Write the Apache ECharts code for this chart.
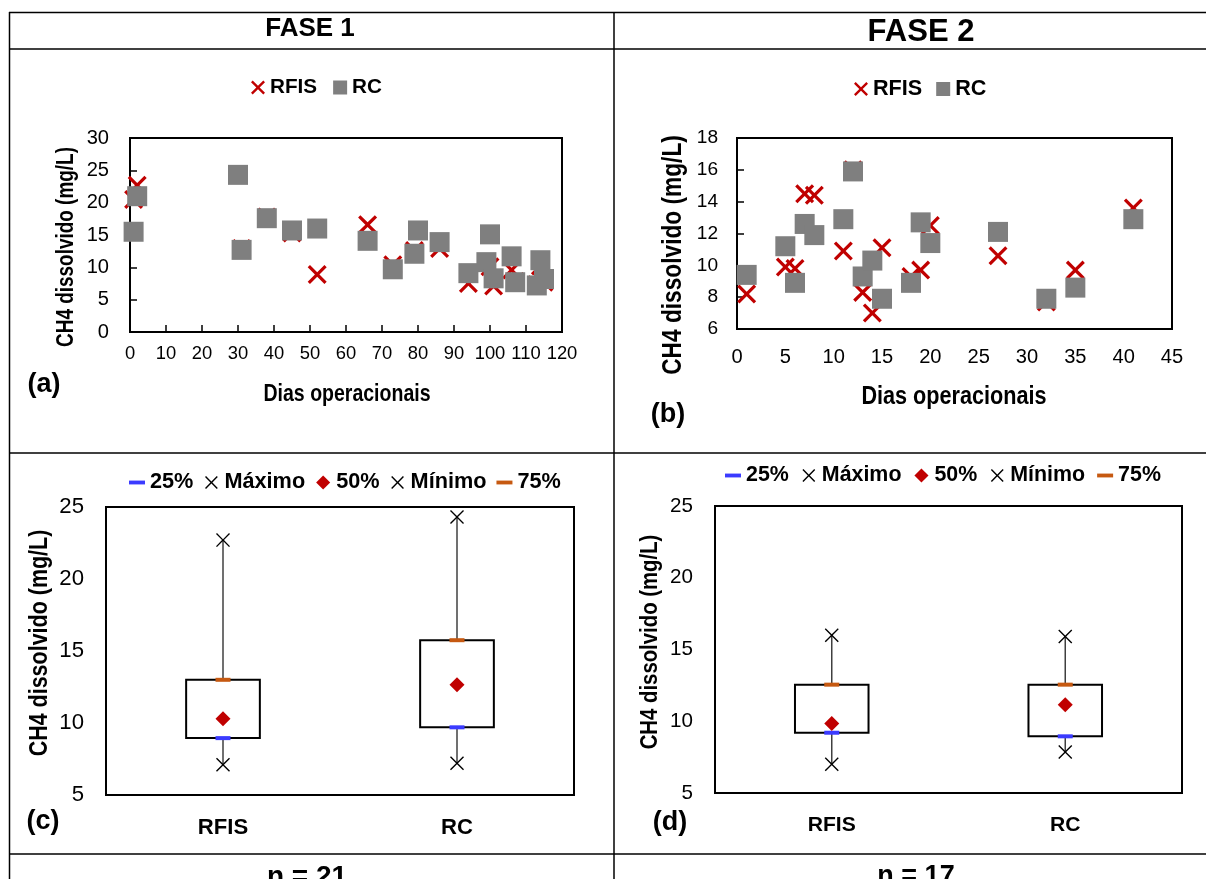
<!DOCTYPE html>
<html>
<head>
<meta charset="utf-8">
<script src="https://cdn.jsdelivr.net/npm/echarts@6/dist/echarts.min.js"></script>
<style>
  html, body { margin: 0; padding: 0; background: #fff; }
  #chart { width: 1206px; height: 879px; }
</style>
</head>
<body>
<div id="chart"></div>
<script>
// ---- Fase 1: dissolved CH4 per operational day ----
const F1_RFIS_DAYS = [1, 2, 31, 38, 45, 52, 66, 73, 79, 86, 94, 94, 99, 100, 101, 101, 106, 107, 113, 114, 115];
const F1_RFIS_VALS = [20.5, 22.7, 12.9, 17.8, 15.3, 8.9, 16.6, 10.4, 12.6, 12.9, 7.5, 9.1, 10.8, 10.1, 7.1, 8.3, 9.6, 7.8, 7.3, 10.2, 7.7];
const F1_RC_DAYS = [1, 2, 30, 31, 38, 45, 52, 66, 73, 79, 80, 86, 94, 99, 100, 101, 106, 107, 113, 114, 115];
const F1_RC_VALS = [15.5, 21.0, 24.3, 12.7, 17.6, 15.7, 16.0, 14.1, 9.7, 12.1, 15.7, 13.9, 9.1, 10.8, 15.1, 8.3, 11.7, 7.7, 7.2, 11.1, 8.2];

// ---- Fase 2 ----
const F2_RFIS_DAYS = [1, 5, 6, 7, 8, 11, 12, 13, 14, 15, 18, 19, 20, 27, 32, 35, 41];
const F2_RFIS_VALS = [8.2, 9.9, 9.8, 14.5, 14.4, 10.9, 16.0, 8.3, 7.0, 11.1, 9.3, 9.7, 12.5, 10.6, 7.7, 9.7, 13.6];
const F2_RC_DAYS = [1, 5, 6, 7, 8, 11, 12, 13, 14, 15, 18, 19, 20, 27, 32, 35, 41];
const F2_RC_VALS = [9.4, 11.2, 8.9, 12.6, 11.9, 12.9, 15.9, 9.3, 10.3, 7.9, 8.9, 12.7, 11.4, 12.1, 7.9, 8.6, 12.9];

// ---- Summary statistics (RFIS, RC) ----
const BOX_CATS = ['RFIS', 'RC'];
const F1_MIN = [7.1, 7.2];
const F1_Q1 = [8.95, 9.7];
const F1_MED = [10.3, 12.65];
const F1_Q3 = [13.0, 15.75];
const F1_MAX = [22.7, 24.3];
const F2_MIN = [7.0, 7.85];
const F2_Q1 = [9.2, 8.95];
const F2_MED = [9.85, 11.15];
const F2_Q3 = [12.55, 12.55];
const F2_MAX = [16.0, 15.9];

const N_FASE1 = 21;
const N_FASE2 = 17;

// ---- fonts ----
const SANS = "'Liberation Sans',Arial,sans-serif";
const NARROW_SCALE = 0.82;          // horizontal squeeze used for the condensed-looking titles
const LABEL_BOOST = 1.12;           // label size relative to a pure width fit
const ctx2d = document.createElement('canvas').getContext('2d');
function textWidth(font, s) { ctx2d.font = font; return ctx2d.measureText(s).width; }
function fitSize(s, width, bold) {
  return 100 * width / textWidth((bold ? 'bold' : 'normal') + ' 100px ' + SANS, s);
}
const labelSize = (s, width, bold) => +(fitSize(s, width, bold) * LABEL_BOOST).toFixed(1);
const titleFont = (s, width) => 'bold ' + (fitSize(s, width, true) / NARROW_SCALE).toFixed(1) + 'px ' + SANS;

const RED = '#c00000', GRAY = '#7f7f7f', BLUE = '#3b3bff', ORANGE = '#c65911';

// X-shaped filled path; inset leaves empty margin inside the 0..100 box
function crossPath(inset, t) {
  const s = (100 - 2 * inset) / 100;
  const pts = [[0, t], [t, 0], [50, 50 - t], [100 - t, 0], [100, t], [50 + t, 50],
               [100, 100 - t], [100 - t, 100], [50, 50 + t], [t, 100], [0, 100 - t], [50 - t, 50]];
  const p = pts.map(([x, y]) => (inset + x * s).toFixed(2) + ',' + (inset + y * s).toFixed(2));
  return 'path://' + (inset > 0 ? 'M0,0 M100,100 ' : '') + 'M' + p.join(' L') + ' Z';
}
const X_BOLD = crossPath(0, 12);
const X_THIN = crossPath(0, 7);
const ICON_X_THIN = crossPath(10, 8);
const ICON_DASH = 'path://M0,0 M100,100 M0,38 L100,38 L100,62 L0,62 Z';
const ICON_DIAMOND = 'path://M0,0 M100,100 M50,6 L94,50 L50,94 L6,50 Z';

const zip = (a, b) => a.map((v, i) => [v, b[i]]);
const catZip = (vals) => BOX_CATS.map((c, i) => [c, vals[i]]);

const axisLine = { onZero: false, lineStyle: { color: '#000', width: 2 } };
const tickIn = { inside: true, length: 7, lineStyle: { color: '#000', width: 1.5 } };
const lbl = (size, margin, bold) => ({ margin, fontFamily: SANS, fontSize: size, color: '#000', fontWeight: bold ? 'bold' : 'normal' });

function boxSeries(gi, mins, q1, q3, maxs) {
  return {
    type: 'custom', xAxisIndex: gi, yAxisIndex: gi, coordinateSystem: 'cartesian2d',
    encode: { x: 0, y: [1, 2, 3, 4] },
    data: BOX_CATS.map((c, i) => [i, mins[i], q1[i], q3[i], maxs[i]]),
    renderItem(params, api) {
      const i = api.value(0);
      const hi = api.coord([i, api.value(4)]);
      const lo = api.coord([i, api.value(1)]);
      const bt = api.coord([i, api.value(3)]);
      const bb = api.coord([i, api.value(2)]);
      const bw = api.size([1, 0])[0] * 0.315;
      return {
        type: 'group',
        children: [
          { type: 'line', shape: { x1: hi[0], y1: hi[1], x2: lo[0], y2: lo[1] }, style: { stroke: '#404040', lineWidth: 1.5 } },
          { type: 'rect', shape: { x: bt[0] - bw / 2, y: bt[1], width: bw, height: bb[1] - bt[1] }, style: { fill: '#fff', stroke: '#000', lineWidth: 2 } }
        ]
      };
    }
  };
}

function markerSeries(gi, q1, med, q3, mins, maxs) {
  const base = { type: 'scatter', xAxisIndex: gi, yAxisIndex: gi };
  const st = (color) => ({ color, opacity: 1 });
  return [
    Object.assign({}, base, { name: '25%', data: catZip(q1), symbol: 'rect', symbolSize: [15, 4], itemStyle: st(BLUE) }),
    Object.assign({}, base, { name: '75%', data: catZip(q3), symbol: 'rect', symbolSize: [15, 4], itemStyle: st(ORANGE) }),
    Object.assign({}, base, { name: 'Máximo', data: catZip(maxs), symbol: X_THIN, symbolSize: 14, itemStyle: st('#000') }),
    Object.assign({}, base, { name: 'Mínimo', data: catZip(mins), symbol: X_THIN, symbolSize: 14, itemStyle: st('#000') }),
    Object.assign({}, base, { name: '50%', data: catZip(med), symbol: 'diamond', symbolSize: 15, itemStyle: st(RED) })
  ];
}

const boxLegendData = [
  { name: '25%', icon: ICON_DASH },
  { name: 'Máximo', icon: ICON_X_THIN },
  { name: '50%', icon: ICON_DIAMOND },
  { name: 'Mínimo', icon: ICON_X_THIN },
  { name: '75%', icon: ICON_DASH }
];
const legendText = (size, lh) => ({ fontFamily: SANS, fontWeight: 'bold', fontSize: size, lineHeight: lh, color: '#000' });

function text(str, x, y, font, rot, sx) {
  return { type: 'text', x, y, rotation: rot || 0, scaleX: sx || 1, z: 100,
    style: { text: str, font, fill: '#000', textAlign: 'center', textVerticalAlign: 'middle' } };
}
function title(str, x, y, width, rot) {
  return text(str, x, y, titleFont(str, width), rot, NARROW_SCALE);
}
function line(x1, y1, x2, y2) {
  return { type: 'line', z: 100, shape: { x1, y1, x2, y2 }, style: { stroke: '#000', lineWidth: 1.5 } };
}
const YNAME = 'CH4 dissolvido (mg/L)';
const XNAME = 'Dias operacionais';

const option = {
  animation: false,
  backgroundColor: '#fff',
  grid: [
    { left: 130, top: 138, width: 432, height: 194, show: true, borderColor: '#000', borderWidth: 2 },
    { left: 737, top: 138, width: 435, height: 191, show: true, borderColor: '#000', borderWidth: 2 },
    { left: 106, top: 507, width: 468, height: 288, show: true, borderColor: '#000', borderWidth: 2 },
    { left: 715, top: 506, width: 467, height: 287, show: true, borderColor: '#000', borderWidth: 2 }
  ],
  xAxis: [
    { gridIndex: 0, type: 'value', min: 0, max: 120, interval: 10, axisLine, axisTick: tickIn, splitLine: { show: false }, axisLabel: lbl(labelSize('10', 18.3), 13) },
    { gridIndex: 1, type: 'value', min: 0, max: 45, interval: 5, axisLine, axisTick: { show: false }, splitLine: { show: false }, axisLabel: lbl(labelSize('10', 20), 18) },
    { gridIndex: 2, type: 'category', data: BOX_CATS, axisLine, axisTick: tickIn, axisLabel: lbl(labelSize('RFIS', 45, true), 22, true) },
    { gridIndex: 3, type: 'category', data: BOX_CATS, axisLine, axisTick: tickIn, axisLabel: lbl(labelSize('RFIS', 43, true), 22, true) }
  ],
  yAxis: [
    { gridIndex: 0, type: 'value', min: 0, max: 30, interval: 5, axisLine, axisTick: tickIn, splitLine: { show: false }, axisLabel: lbl(labelSize('30', 20), 21) },
    { gridIndex: 1, type: 'value', min: 6, max: 18, interval: 2, axisLine, axisTick: tickIn, splitLine: { show: false }, axisLabel: lbl(labelSize('18', 19), 19) },
    { gridIndex: 2, type: 'value', min: 5, max: 25, interval: 5, axisLine, axisTick: { show: false }, splitLine: { show: false }, axisLabel: lbl(labelSize('25', 22), 22) },
    { gridIndex: 3, type: 'value', min: 5, max: 25, interval: 5, axisLine, axisTick: { show: false }, splitLine: { show: false }, axisLabel: lbl(labelSize('25', 20.5), 22) }
  ],
  legend: [
    { left: 251, top: 77, padding: 0, itemWidth: 14, itemHeight: 14, itemGap: 16, textStyle: legendText(labelSize('RFIS', 42, true), 14),
      data: [{ name: 'RFIS', icon: X_BOLD }, { name: 'RC', icon: 'rect' }] },
    { left: 854, top: 78, padding: 0, itemWidth: 14, itemHeight: 14, itemGap: 14, textStyle: legendText(labelSize('RFIS', 44, true), 14),
      data: [{ name: 'RFIS', icon: X_BOLD }, { name: 'RC', icon: 'rect' }] },
    { left: 129, top: 471.5, padding: 0, width: 480, itemWidth: 16, itemHeight: 16, itemGap: 10, textStyle: legendText(labelSize('Máximo', 72, true), 16), data: boxLegendData },
    { left: 725, top: 465, padding: 0, width: 475, itemWidth: 16, itemHeight: 16, itemGap: 12, textStyle: legendText(labelSize('Máximo', 71, true), 16), data: boxLegendData }
  ],
  series: [
    { type: 'scatter', name: 'RFIS', xAxisIndex: 0, yAxisIndex: 0, data: zip(F1_RFIS_DAYS, F1_RFIS_VALS), symbol: X_BOLD, symbolSize: 19, itemStyle: { color: RED, opacity: 1 } },
    { type: 'scatter', name: 'RC', xAxisIndex: 0, yAxisIndex: 0, data: zip(F1_RC_DAYS, F1_RC_VALS), symbol: 'rect', symbolSize: 20, itemStyle: { color: GRAY, opacity: 1 } },
    { type: 'scatter', name: 'RFIS', xAxisIndex: 1, yAxisIndex: 1, data: zip(F2_RFIS_DAYS, F2_RFIS_VALS), symbol: X_BOLD, symbolSize: 19, itemStyle: { color: RED, opacity: 1 } },
    { type: 'scatter', name: 'RC', xAxisIndex: 1, yAxisIndex: 1, data: zip(F2_RC_DAYS, F2_RC_VALS), symbol: 'rect', symbolSize: 20, itemStyle: { color: GRAY, opacity: 1 } },
    boxSeries(2, F1_MIN, F1_Q1, F1_Q3, F1_MAX),
    ...markerSeries(2, F1_Q1, F1_MED, F1_Q3, F1_MIN, F1_MAX),
    boxSeries(3, F2_MIN, F2_Q1, F2_Q3, F2_MAX),
    ...markerSeries(3, F2_Q1, F2_MED, F2_Q3, F2_MIN, F2_MAX)
  ],
  graphic: {
    elements: [
      // table frame
      line(9, 12.5, 1206, 12.5),
      line(9, 49, 1206, 49),
      line(9, 453, 1206, 453),
      line(9, 854, 1206, 854),
      line(9.5, 12, 9.5, 879),
      line(614, 12, 614, 879),
      // column headers and sample sizes
      text('FASE 1', 310, 29, 'bold 26px ' + SANS),
      text('FASE 2', 921, 32, 'bold 31px ' + SANS),
      text('n = ' + N_FASE1, 307, 877, 'bold 28px ' + SANS),
      text('n = ' + N_FASE2, 916, 877, 'bold 27px ' + SANS),
      // axis titles
      title(YNAME, 67, 247, 200, Math.PI / 2),
      title(XNAME, 347, 394, 167),
      title(YNAME, 673, 255, 240, Math.PI / 2),
      title(XNAME, 954, 397, 185),
      title(YNAME, 40, 643, 227, Math.PI / 2),
      title(YNAME, 650, 642, 215, Math.PI / 2),
      // panel letters
      text('(a)', 44, 385, 'bold 27px ' + SANS),
      text('(b)', 668, 415, 'bold 27px ' + SANS),
      text('(c)', 43, 822, 'bold 27px ' + SANS),
      text('(d)', 670, 823, 'bold 27px ' + SANS)
    ]
  }
};

const chart = echarts.init(document.getElementById('chart'), null, { renderer: 'canvas' });
chart.setOption(option);
</script>
</body>
</html>
